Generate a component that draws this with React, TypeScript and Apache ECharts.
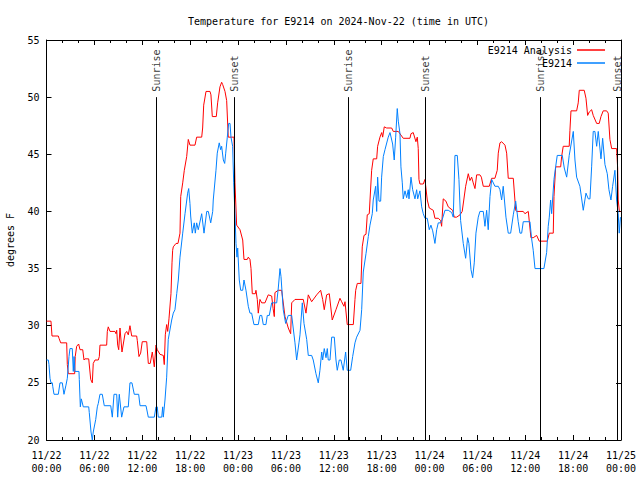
import React, { useEffect, useRef } from 'react';
import * as echarts from 'echarts';

const TITLE = 'Temperature for E9214 on 2024-Nov-22 (time in UTC)';
const Y_TITLE = 'degrees F';
const SERIES_NAMES = ['E9214 Analysis', 'E9214'];

const xTickLabels = [
  '11/22\n00:00', '11/22\n06:00', '11/22\n12:00', '11/22\n18:00',
  '11/23\n00:00', '11/23\n06:00', '11/23\n12:00', '11/23\n18:00',
  '11/24\n00:00', '11/24\n06:00', '11/24\n12:00', '11/24\n18:00',
  '11/25\n00:00',
];

// hours since 11/22 00:00 UTC, degrees F
const analysisData: [number, number][] = [
  [0,30.4],[0.56,30.4],[0.69,29.1],[1.48,29.1],[1.57,28.9],[1.78,28.5],[2.53,28.5],[2.61,26.6],[2.73,25.8],[3.53,25.8],
  [3.6,27.3],[3.78,28.2],[4.03,28.4],[4.2,27.9],[4.54,27.9],[4.7,27.0],[4.82,27.1],[5.29,27.1],[5.54,25.3],[5.74,25.0],
  [5.86,26.7],[6.08,27.0],[6.49,27.0],[6.62,27.3],[6.7,28.3],[7.54,28.3],[7.62,29.5],[7.74,29.9],[7.96,29.5],[8.58,29.5],
  [8.71,29.3],[8.8,29.6],[8.92,28.3],[9.05,27.9],[9.21,29.8],[9.46,27.7],[9.84,29.3],[10.05,29.5],[10.25,29.2],[10.46,30.0],
  [10.68,29.1],[11.3,29.1],[11.38,28.7],[11.59,27.3],[11.8,27.6],[12.0,28.6],[12.56,28.6],[12.76,26.7],[13.0,26.7],[13.26,27.7],
  [13.51,26.4],[13.72,28.3],[13.88,27.9],[14.22,27.5],[14.64,27.4],[14.76,26.6],[14.89,29.2],[15.06,30.1],[15.19,29.5],[15.35,30.6],
  [15.6,32.8],[15.73,35.5],[15.81,36.6],[15.89,36.9],[16.23,37.2],[16.48,37.2],[16.73,38.1],[16.82,41.3],[17.07,42.5],[17.27,43.6],
  [17.57,44.8],[17.77,46.3],[17.98,45.8],[18.61,45.8],[18.82,46.5],[19.45,46.5],[19.57,47.3],[19.7,49.3],[19.99,50.5],[20.49,50.5],
  [20.61,50.2],[20.78,48.3],[21.28,48.3],[21.45,49.5],[21.74,50.9],[21.95,51.3],[22.08,51.1],[22.37,50.5],[22.58,49.7],[22.78,46.5],
  [23.5,46.5],[23.62,42.5],[23.83,38.8],[24.25,38.4],[24.59,37.5],[24.75,35.8],[25.16,35.8],[25.29,36.0],[25.5,35.8],[25.63,35.0],
  [25.79,32.8],[26.17,32.8],[26.25,33.1],[26.42,32.3],[26.54,31.1],[26.75,32.3],[26.97,32.0],[27.38,32.0],[27.79,32.7],[28.22,32.6],
  [28.4,31.5],[28.55,30.8],[28.63,32.9],[29.05,33.1],[29.47,33.1],[29.89,30.8],[30.3,29.8],[30.6,29.3],[30.73,32.0],[31.14,32.3],
  [32.18,32.3],[32.52,31.1],[32.81,32.7],[33.23,32.1],[33.86,32.7],[34.36,33.1],[34.61,32.3],[34.81,31.4],[35.11,32.7],[35.44,32.8],
  [35.81,30.5],[36.28,31.4],[36.78,32.4],[36.99,32.1],[37.28,31.7],[37.41,32.1],[37.69,30.1],[38.45,30.1],[38.66,32.3],[38.75,33.1],
  [38.95,33.7],[39.41,33.7],[39.57,36.9],[39.79,37.9],[40.04,38.0],[40.2,39.7],[40.45,39.8],[40.75,43.6],[40.95,44.6],[41.38,44.6],
  [41.5,45.7],[41.79,46.5],[42.01,46.9],[42.13,46.5],[42.33,47.4],[42.63,47.3],[43.26,47.3],[43.46,47.0],[44.09,47.0],[44.71,46.4],
  [45.55,46.4],[45.68,46.8],[45.96,46.9],[46.3,46.1],[46.47,46.5],[46.59,45.5],[46.68,42.8],[46.8,42.4],[47.22,42.4],[47.43,42.8],
  [47.72,41.0],[47.97,40.3],[48.47,40.1],[48.68,39.4],[49.1,39.4],[49.4,39.2],[49.52,38.7],[49.72,41.1],[50.06,40.9],[50.35,40.4],
  [50.9,40.1],[51.1,39.5],[51.4,39.5],[51.82,39.7],[52.1,40.0],[52.53,42.2],[52.86,43.3],[53.07,42.7],[53.28,43.0],[53.48,42.5],
  [53.7,42.0],[53.91,43.2],[54.32,43.2],[54.5,43.0],[54.74,42.2],[55.49,42.2],[55.79,42.9],[56.2,42.9],[56.49,43.6],[56.62,45.1],
  [56.83,46.0],[57.04,46.1],[57.46,45.8],[57.67,45.1],[57.87,42.9],[58.5,42.9],[58.8,40.1],[58.92,40.0],[59.75,40.0],[59.96,39.8],
  [60.38,40.0],[60.71,37.7],[61.0,37.7],[61.43,37.9],[61.75,37.4],[62.76,37.4],[63.01,38.1],[63.51,38.1],[63.6,41.3],[63.81,43.9],
  [64.44,43.9],[64.56,44.8],[64.76,45.7],[65.51,45.7],[65.6,47.1],[65.73,48.8],[66.44,48.8],[66.64,49.5],[66.77,50.6],[67.39,50.6],
  [67.61,49.9],[67.82,48.4],[68.02,48.7],[68.32,48.9],[68.52,48.4],[68.95,47.7],[69.27,47.7],[69.49,48.3],[69.77,48.8],[70.2,48.8],
  [70.4,48.6],[70.61,46.3],[70.83,45.5],[71.45,45.5],[71.58,43.8],[71.65,41.0],[71.78,40.1],[71.93,40.0],
];

const observedData: [number, number][] = [
  [0,27.0],[0.23,27.0],[0.31,26.6],[0.44,25.4],[0.56,25.0],[0.73,25.0],[0.78,24.7],[0.94,24.0],[1.48,24.0],[1.69,25.0],
  [1.98,25.0],[2.19,24.0],[2.44,24.8],[2.61,25.4],[2.82,27.3],[2.94,28.0],[3.23,28.0],[3.36,26.0],[3.45,27.3],[3.57,26.0],
  [4.07,26.0],[4.11,25.3],[4.24,22.9],[4.36,23.6],[4.61,22.9],[5.29,22.9],[5.36,22.4],[5.58,20.7],[5.74,20.0],[5.86,20.7],
  [6.17,21.8],[6.37,22.9],[6.49,23.2],[6.7,24.0],[6.99,24.0],[7.24,23.0],[8.05,23.0],[8.25,22.0],[8.46,24.0],[8.8,24.0],
  [8.92,22.0],[9.12,24.0],[9.42,22.0],[9.71,22.9],[10.25,22.9],[10.46,25.0],[10.71,25.0],[11.0,24.0],[11.55,24.0],[11.72,23.0],
  [12.47,23.0],[12.76,22.0],[13.51,22.0],[13.72,22.9],[13.88,22.9],[14.01,22.0],[14.44,22.0],[14.56,22.9],[14.64,22.0],[14.85,23.5],
  [15.06,25.5],[15.26,28.8],[15.69,30.5],[15.89,31.1],[16.1,31.4],[16.32,32.8],[16.52,34.0],[16.73,36.0],[17.07,38.1],[17.36,39.8],
  [17.69,41.6],[17.82,42.0],[17.98,40.7],[18.07,39.6],[18.27,38.1],[18.52,39.0],[18.65,38.1],[18.82,39.0],[19.02,38.4],[19.45,39.8],
  [19.74,38.1],[20.08,40.0],[20.28,40.0],[20.58,39.0],[20.83,40.0],[20.9,41.0],[21.24,43.6],[21.4,45.1],[21.65,46.0],[21.83,45.4],
  [21.95,45.7],[22.16,44.5],[22.33,44.2],[22.46,45.1],[22.66,46.5],[22.83,47.7],[23.0,47.7],[23.12,46.5],[23.33,45.7],[23.46,42.5],
  [23.62,39.8],[23.75,37.2],[23.87,36.0],[23.96,36.8],[24.16,34.0],[24.34,33.1],[24.59,33.1],[24.75,34.0],[25.0,33.1],[25.29,31.7],
  [25.5,31.1],[25.71,31.1],[26.0,30.1],[26.54,30.1],[26.75,30.9],[26.97,30.9],[27.17,30.1],[27.5,30.1],[27.67,30.9],[27.92,30.9],
  [28.22,32.0],[28.85,32.0],[29.05,33.3],[29.26,35.0],[29.39,34.3],[29.67,31.4],[29.97,30.2],[30.3,30.9],[30.73,30.9],[31.14,28.5],
  [31.35,27.0],[31.64,28.5],[31.77,29.2],[32.06,32.0],[32.27,30.2],[32.61,28.8],[32.81,27.4],[33.23,27.4],[33.43,27.0],[33.77,25.8],
  [34.06,25.0],[34.27,26.1],[34.49,27.7],[34.61,27.0],[34.81,28.0],[35.03,27.2],[35.19,28.0],[35.31,27.0],[35.53,27.0],[35.74,29.0],
  [36.07,29.0],[36.28,27.0],[36.44,26.1],[36.69,27.0],[36.9,27.0],[37.19,26.1],[37.49,27.7],[37.69,26.1],[38.12,26.1],[38.37,27.3],
  [38.66,28.5],[38.87,29.0],[39.29,29.6],[39.5,31.4],[39.7,34.7],[40.04,36.3],[40.33,37.8],[40.54,38.8],[40.83,39.8],[40.95,41.0],
  [41.25,42.2],[41.38,40.0],[41.5,43.0],[41.67,40.9],[41.88,40.9],[42.0,43.0],[42.21,44.8],[42.42,45.4],[42.83,46.5],[43.05,46.9],
  [43.38,45.9],[43.58,44.5],[43.76,46.5],[43.96,49.0],[44.09,47.9],[44.3,46.8],[44.42,43.9],[44.59,42.5],[44.71,41.1],[44.93,41.8],
  [45.14,41.2],[45.34,41.9],[45.43,41.1],[45.68,43.0],[45.89,41.9],[46.18,41.1],[46.39,41.9],[46.52,41.1],[46.8,41.8],[47.02,40.4],
  [47.22,39.8],[47.43,39.4],[47.72,39.4],[47.97,38.4],[48.18,38.8],[48.4,38.3],[48.68,37.2],[48.9,38.4],[49.1,39.0],[49.4,39.0],
  [49.6,39.3],[49.94,40.1],[50.35,40.1],[50.78,39.9],[50.98,39.5],[51.19,44.9],[51.48,44.9],[51.69,42.8],[51.9,39.2],[52.23,37.2],
  [52.53,35.9],[52.78,37.7],[52.94,37.2],[53.2,34.9],[53.41,34.2],[53.61,35.5],[53.82,38.1],[54.11,39.5],[54.32,40.0],[54.74,40.0],
  [54.95,38.7],[55.16,40.1],[55.36,38.4],[55.58,41.3],[55.79,42.8],[56.2,42.2],[56.62,42.2],[56.83,41.9],[57.04,41.0],[57.24,42.2],
  [57.58,39.5],[57.87,38.1],[58.17,38.1],[58.5,39.7],[58.8,40.9],[59.12,39.1],[59.34,38.1],[59.55,38.1],[59.75,39.1],[60.59,39.1],
  [60.8,37.6],[61.0,36.6],[61.22,35.0],[62.34,35.0],[62.68,36.4],[62.88,38.7],[63.01,39.5],[63.18,41.0],[63.31,39.8],[63.6,42.8],
  [63.81,43.9],[64.01,44.9],[64.64,44.9],[64.89,43.8],[65.19,43.0],[65.51,44.9],[66.02,47.0],[66.23,44.5],[66.44,43.0],[66.85,42.2],
  [67.27,40.1],[67.61,41.6],[67.9,41.1],[68.11,41.1],[68.32,43.9],[68.52,47.0],[68.73,47.0],[68.95,45.7],[69.15,47.0],[69.49,44.6],
  [69.7,46.4],[69.99,44.1],[70.28,43.3],[70.49,41.9],[70.74,41.0],[70.95,42.2],[71.24,43.6],[71.45,41.0],[71.65,39.8],[71.78,38.1],
  [71.93,39.5],
];

const sunHours = [13.76, 23.53, 37.82, 47.52, 61.93, 71.58];
const sunLabels = ['Sunrise', 'Sunset', 'Sunrise', 'Sunset', 'Sunrise', 'Sunset'];
const SUN_TOP = 50;
const SUN_BOTTOM = 20;

const FONT = 'DejaVu Sans Mono';

export default function App() {
  const ref = useRef<HTMLDivElement>(null);
  useEffect(() => {
    if (!ref.current) return;
    const chart = echarts.init(ref.current, null, { renderer: 'svg' });
    const txt = { fontFamily: FONT, fontSize: 10, color: '#000' };
    const axisCommon = {
      type: 'value',
      axisLine: { show: true, onZero: false, lineStyle: { color: '#000', width: 1 } },
      axisTick: { show: true, inside: true, length: 5, lineStyle: { color: '#000', width: 1 } },
      splitLine: { show: false },
      minorSplitLine: { show: false },
    };
    const xCommon = {
      ...axisCommon,
      min: 0,
      max: 72,
      interval: 6,
      minorTick: { show: true, splitNumber: 3, length: 3, lineStyle: { color: '#000', width: 1 } },
    };
    const yCommon = { ...axisCommon, min: 20, max: 55, interval: 5 };
    const option: any = {
      animation: false,
      backgroundColor: '#fff',
      textStyle: txt,
      title: {
        text: TITLE,
        left: 183,
        top: 11,
        textStyle: { ...txt, fontWeight: 'normal' },
      },
      legend: {
        data: SERIES_NAMES,
        orient: 'vertical',
        align: 'right',
        right: 30,
        top: 39,
        itemWidth: 28,
        itemHeight: 1.5,
        itemGap: 1,
        icon: 'rect',
        selectedMode: false,
        textStyle: { ...txt, lineHeight: 12 },
      },
      grid: {
        left: 46.5,
        right: 19,
        top: 40,
        bottom: 40,
        containLabel: false,
        outerBoundsMode: 'none',
      },
      xAxis: [
        {
          ...xCommon,
          position: 'bottom',
          axisLabel: {
            ...txt,
            lineHeight: 13,
            margin: 9,
            formatter: (v: number) => xTickLabels[Math.round(v / 6)] ?? '',
          },
        },
        { ...xCommon, position: 'top', axisLabel: { show: false } },
      ],
      yAxis: [
        {
          ...yCommon,
          position: 'left',
          name: Y_TITLE,
          nameLocation: 'middle',
          nameRotate: 90,
          nameGap: 31,
          nameTextStyle: txt,
          axisLabel: { ...txt, margin: 7 },
        },
        { ...yCommon, position: 'right', axisLabel: { show: false } },
      ],
      series: [
        {
          name: SERIES_NAMES[0],
          type: 'line',
          data: analysisData,
          symbol: 'none',
          showSymbol: false,
          lineStyle: { color: '#ff0000', width: 1 },
          itemStyle: { color: '#ff0000' },
          xAxisIndex: 0,
          yAxisIndex: 0,
        },
        {
          name: SERIES_NAMES[1],
          type: 'line',
          data: observedData,
          symbol: 'none',
          showSymbol: false,
          lineStyle: { color: '#0080ff', width: 1 },
          itemStyle: { color: '#0080ff' },
          xAxisIndex: 0,
          yAxisIndex: 0,
        },
        {
          name: 'sun',
          type: 'scatter',
          xAxisIndex: 0,
          yAxisIndex: 0,
          symbolSize: 1,
          itemStyle: { color: 'rgba(0,0,0,0)' },
          silent: true,
          data: sunHours.map((h, i) => ({
            value: [h, SUN_TOP],
            label: { formatter: sunLabels[i] },
          })),
          label: {
            show: true,
            position: 'top',
            distance: 5,
            rotate: 90,
            align: 'left',
            verticalAlign: 'middle',
            ...txt,
          },
          markLine: {
            silent: true,
            symbol: ['none', 'none'],
            label: { show: false },
            lineStyle: { color: '#000', width: 1, type: 'solid' },
            data: sunHours.map((h) => [{ coord: [h, SUN_BOTTOM] }, { coord: [h, SUN_TOP] }]),
          },
        },
      ],
    };
    chart.setOption(option);
    return () => chart.dispose();
  }, []);
  return (
    <div
      ref={ref}
      style={{ position: 'fixed', left: 0, top: 0, width: 640, height: 480, background: '#fff' }}
    />
  );
}
